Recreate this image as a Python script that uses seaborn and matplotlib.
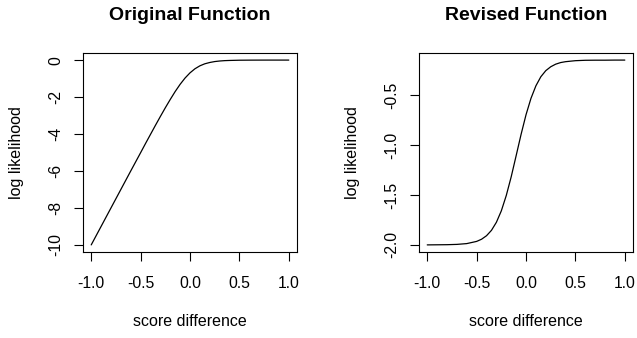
import numpy as np
import pandas as pd
import matplotlib
matplotlib.use("Agg")
import matplotlib.pyplot as plt
import seaborn as sns

# values
score_diff = [-1.0, -0.9, -0.8, -0.7, -0.6, -0.5, -0.45, -0.4, -0.35, -0.3, -0.25,
              -0.2, -0.15, -0.1, -0.05, 0.0, 0.05, 0.1, 0.15, 0.2, 0.25, 0.3,
              0.35, 0.4, 0.5, 0.6, 0.7, 0.8, 0.9, 1.0]
original_ll = [-10.0, -9.0, -8.0, -7.0, -6.0, -5.01, -4.51, -4.02, -3.53, -3.05, -2.58,
               -2.13, -1.70, -1.31, -0.97, -0.69, -0.47, -0.31, -0.20, -0.13, -0.08, -0.05,
               -0.03, -0.02, -0.007, -0.003, -0.001, 0.0, 0.0, 0.0]
revised_ll = [-2.0, -1.999, -1.998, -1.995, -1.987, -1.965, -1.943, -1.908, -1.854, -1.773, -1.658,
              -1.504, -1.316, -1.104, -0.890, -0.693, -0.529, -0.403, -0.312, -0.251, -0.212, -0.186,
              -0.170, -0.161, -0.151, -0.147, -0.146, -0.146, -0.145, -0.145]

x_ticks = [-1.0, -0.5, 0.0, 0.5, 1.0]
orig_yticks = [0, -2, -4, -6, -8, -10]
rev_yticks = [-2.0, -1.5, -1.0, -0.5]

df = pd.DataFrame({"score": score_diff, "orig": original_ll, "rev": revised_ll})

sns.set_theme(style="ticks")
plt.rcParams["font.family"] = ["Liberation Sans", "DejaVu Sans"]
plt.rcParams["axes.unicode_minus"] = False
plt.rcParams["text.color"] = "black"
plt.rcParams["axes.labelcolor"] = "black"

fig = plt.figure(figsize=(6.37, 3.38), dpi=100)
ax1 = fig.add_axes([0.1308, 0.2536, 0.335, 0.5905])
ax2 = fig.add_axes([0.6583, 0.2536, 0.335, 0.5905])


def style_r(ax, col, title, yticks, fmt):
    # base-R look: boxed panel, outward ticks, rotated y labels
    sns.lineplot(data=df, x="score", y=col, ax=ax, color="black", lw=0.9)
    lo, hi = min(df[col]), max(df[col])
    pad = (hi - lo) * 0.04
    ax.set_ylim(lo - pad, hi + pad)
    ax.set_xlim(-1.08, 1.08)
    ax.set_xticks(x_ticks)
    ax.set_xticklabels([f"{t:.1f}" for t in x_ticks])
    ax.set_yticks(yticks)
    ax.set_yticklabels([fmt(t) for t in yticks], rotation=90, va="center")
    ax.tick_params(axis="both", direction="out", length=6.8, width=0.8,
                   labelsize=11.3, colors="black")
    ax.tick_params(axis="x", pad=10.2)
    ax.tick_params(axis="y", pad=7.6)
    for sp in ax.spines.values():
        sp.set_visible(True)
        sp.set_linewidth(0.8)
        sp.set_color("black")
    ax.set_xlabel("score difference", fontsize=11.5, labelpad=16.5)
    ax.set_ylabel("log likelihood", fontsize=11.5, labelpad=17.5)
    ax.set_title(title, fontsize=14, fontweight="bold", pad=23.5)


style_r(ax1, "orig", "Original Function", orig_yticks, lambda t: f"{t:d}")
style_r(ax2, "rev", "Revised Function", rev_yticks, lambda t: f"{t:.1f}")

fig.savefig("out.png", dpi=100)
